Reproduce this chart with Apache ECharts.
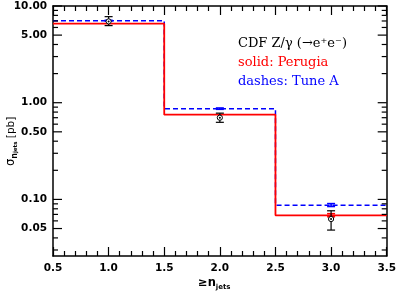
<!DOCTYPE html>
<html><head><meta charset="utf-8">
<script src="https://cdn.jsdelivr.net/npm/echarts@6/dist/echarts.min.js"></script>
<style>html,body{margin:0;padding:0;background:#fff}#c{width:399px;height:297px}</style>
</head><body><div id="c"></div>
<script>
// ---- data ----
const binEdges = [0.5, 1.5, 2.5, 3.5];
const perugia = [6.57, 0.752, 0.0684];
const tuneA = [7.05, 0.868, 0.0873];
const dataX = [1.0, 2.0, 3.0];
const dataY = [6.93, 0.70, 0.0627];
const dataLo = [6.27, 0.627, 0.0482];
const dataHi = [7.76, 0.78, 0.0763];
const tuneAErrX = [1.0, 2.0, 3.0];
const tuneALo = [6.98, 0.855, 0.0845];
const tuneAHi = [7.12, 0.882, 0.0905];
const perugiaErrX = [3.0];
const perugiaLo = [0.0662];
const perugiaHi = [0.0712];
const yMajorTicks = [0.05, 0.1, 0.5, 1, 5, 10];
const yMajorLabels = ['0.05', '0.10', '0.50', '1.00', '5.00', '10.00'];
const yMinorTicks = [0.03, 0.04, 0.06, 0.07, 0.08, 0.09, 0.2, 0.3, 0.4, 0.6, 0.7, 0.8, 0.9, 2, 3, 4, 6, 7, 8, 9];
const xMin = 0.5, xMax = 3.5, yMin = 0.026, yMax = 10;

function stepData(edges, vals) {
  const d = [];
  for (let i = 0; i < vals.length; i++) d.push([edges[i], vals[i]]);
  d.push([edges[edges.length - 1], vals[vals.length - 1]]);
  return d;
}

const chart = echarts.init(document.getElementById('c'), null, {renderer: 'canvas'});
const tickFont = 'DejaVu Sans';

function errRender(color, capW, lw, withMarker) {
  return function (params, api) {
    const x = api.value(0), lo = api.value(1), hi = api.value(2), y = api.value(3);
    const pLo = api.coord([x, lo]), pHi = api.coord([x, hi]);
    const st = {stroke: color, lineWidth: lw};
    const ch = [
      {type: 'line', shape: {x1: pLo[0], y1: pLo[1], x2: pHi[0], y2: pHi[1]}, style: st},
      {type: 'line', shape: {x1: pLo[0] - capW, y1: pLo[1], x2: pLo[0] + capW, y2: pLo[1]}, style: st},
      {type: 'line', shape: {x1: pHi[0] - capW, y1: pHi[1], x2: pHi[0] + capW, y2: pHi[1]}, style: st}
    ];
    if (withMarker) {
      const p = api.coord([x, y]);
      ch.push({type: 'circle', shape: {cx: p[0], cy: p[1], r: 2.6}, style: {fill: '#fff', stroke: '#000', lineWidth: 1}});
      ch.push({type: 'circle', shape: {cx: p[0], cy: p[1], r: 1}, style: {fill: '#000'}});
    }
    return {type: 'group', children: ch};
  };
}

const option = {
  animation: false,
  grid: {left: 53, right: 12, top: 6, bottom: 41, containLabel: false},
  xAxis: [{
    type: 'value', min: xMin, max: xMax, interval: 0.5, position: 'bottom',
    axisLine: {show: true, onZero: false, lineStyle: {color: '#000', width: 1.5}},
    axisTick: {show: true, inside: true, length: 9, lineStyle: {color: '#000', width: 1.2}},
    minorTick: {show: true, splitNumber: 5, length: 5, lineStyle: {color: '#000', width: 1.2}},
    axisLabel: {show: true, margin: 7, color: '#000', fontFamily: tickFont, fontWeight: 'bold', fontSize: 10.5,
      formatter: v => v.toFixed(1), showMinLabel: true, showMaxLabel: true},
    splitLine: {show: false}
  }, {
    type: 'value', min: xMin, max: xMax, interval: 0.5, position: 'top',
    axisLine: {show: true, onZero: false, lineStyle: {color: '#000', width: 1.5}},
    axisTick: {show: true, inside: true, length: 9, lineStyle: {color: '#000', width: 1.2}},
    minorTick: {show: true, splitNumber: 5, length: 5, lineStyle: {color: '#000', width: 1.2}},
    axisLabel: {show: false}, splitLine: {show: false}
  }],
  yAxis: [{
    type: 'log', logBase: 10, min: yMin, max: yMax, position: 'left',
    axisLine: {show: true, onZero: false, lineStyle: {color: '#000', width: 1.5}},
    axisTick: {show: false}, axisLabel: {show: false}, splitLine: {show: false}
  }, {
    type: 'log', logBase: 10, min: yMin, max: yMax, position: 'right',
    axisLine: {show: true, onZero: false, lineStyle: {color: '#000', width: 1.5}},
    axisTick: {show: false}, axisLabel: {show: false}, splitLine: {show: false}
  }],
  series: [
    {
      type: 'line', step: 'end', data: stepData(binEdges, tuneA), showSymbol: false, symbol: 'none',
      lineStyle: {color: '#0000ff', width: 1.5, type: [5, 3]}, z: 2
    },
    {
      type: 'line', step: 'end', data: stepData(binEdges, perugia), showSymbol: false, symbol: 'none',
      lineStyle: {color: '#ff0000', width: 1.8}, z: 3
    },
    {
      type: 'custom', z: 4, data: tuneAErrX.map((x, i) => [x, tuneALo[i], tuneAHi[i], 0]),
      renderItem: errRender('#0000ff', 4, 1.6, false)
    },
    {
      type: 'custom', z: 4, data: perugiaErrX.map((x, i) => [x, perugiaLo[i], perugiaHi[i], 0]),
      renderItem: errRender('#ff0000', 4, 1.6, false)
    },
    {
      type: 'custom', z: 5, data: dataX.map((x, i) => [x, dataLo[i], dataHi[i], dataY[i]]),
      renderItem: errRender('#000', 4, 1.2, true)
    },
    {
      type: 'custom', z: 6, clip: false,
      data: yMajorTicks.map((v, i) => [v, 1, i]).concat(yMinorTicks.map(v => [v, 0, -1])),
      renderItem: function (params, api) {
        const v = api.value(0), major = api.value(1), li = api.value(2);
        const pl = api.coord([xMin, v]), pr = api.coord([xMax, v]);
        const len = major ? 9 : 5;
        const st = {stroke: '#000', lineWidth: 1.2};
        const ch = [
          {type: 'line', shape: {x1: pl[0], y1: pl[1], x2: pl[0] + len, y2: pl[1]}, style: st},
          {type: 'line', shape: {x1: pr[0], y1: pr[1], x2: pr[0] - len, y2: pr[1]}, style: st}
        ];
        if (major) {
          ch.push({type: 'text', x: pl[0] - 6, y: pl[1], style: {text: yMajorLabels[li], fill: '#000',
            font: 'bold 10.5px "DejaVu Sans"', textAlign: 'right', textVerticalAlign: 'middle'}});
        }
        return {type: 'group', children: ch};
      }
    }
  ],
  graphic: [
    {type: 'text', left: 238, top: 37, style: {text: 'CDF Z/γ (→e⁺e⁻)', fill: '#000', font: '13px "DejaVu Serif"'}},
    {type: 'text', left: 238, top: 56, style: {text: 'solid: Perugia', fill: '#ff0000', font: '13px "DejaVu Serif"'}},
    {type: 'text', left: 238, top: 75, style: {text: 'dashes: Tune A', fill: '#0000ff', font: '13px "DejaVu Serif"'}},
    {
      type: 'text', x: 198, y: 275,
      style: {
        text: '{a|≥n}{b|jets}',
        rich: {
          a: {fontFamily: 'DejaVu Sans', fontWeight: 'bold', fontSize: 11.5, lineHeight: 16, verticalAlign: 'middle', fill: '#000'},
          b: {fontFamily: 'DejaVu Sans', fontWeight: 'bold', fontSize: 7, lineHeight: 8, verticalAlign: 'bottom', fill: '#000'}
        }
      }
    },
    {
      type: 'text', x: 3, y: 166, rotation: Math.PI / 2,
      style: {
        text: '{s|σ}{n|n}{j|jets}{p| [pb]}',
        rich: {
          s: {fontFamily: 'DejaVu Sans', fontSize: 11.5, lineHeight: 16, verticalAlign: 'middle', fill: '#000'},
          n: {fontFamily: 'DejaVu Sans', fontWeight: 'bold', fontSize: 8, lineHeight: 12, verticalAlign: 'bottom', fill: '#000'},
          j: {fontFamily: 'DejaVu Sans', fontWeight: 'bold', fontSize: 5.5, lineHeight: 6, verticalAlign: 'bottom', fill: '#000'},
          p: {fontFamily: 'DejaVu Sans', fontSize: 10.5, lineHeight: 16, verticalAlign: 'middle', fill: '#000'}
        }
      }
    }
  ]
};
chart.setOption(option);
</script></body></html>
